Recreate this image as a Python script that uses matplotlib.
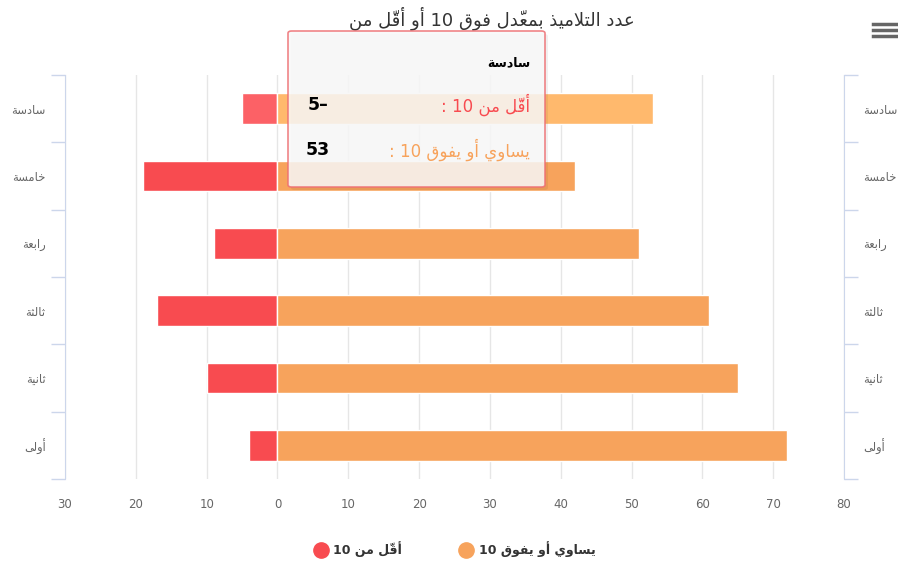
import numpy as np
import matplotlib
matplotlib.use('Agg')
import matplotlib.pyplot as plt
from matplotlib.lines import Line2D
from matplotlib.patches import FancyBboxPatch

# data
categories = ['سادسة', 'خامسة', 'رابعة', 'ثالثة', 'ثانية', 'أولى']
below_10 = [-5, -19, -9, -17, -10, -4]
above_10 = [53, 42, 51, 61, 65, 72]
series_names = ['أقلّ من 10', 'يساوي أو يفوق 10']
title = 'عدد التلاميذ بمعدّل فوق 10 أو أقلّ من'
xticks = list(range(-30, 81, 10))
hovered = 0

RED, RED_H = '#f84b50', '#fc6166'
ORANGE, ORANGE_H = '#f7a35c', '#ffb96d'

# small arabic shaping so matplotlib shows joined letters right to left
JOIN = {'ا': (0xFE8D, 2), 'أ': (0xFE83, 2), 'ب': (0xFE8F, 4), 'ة': (0xFE93, 2),
        'ت': (0xFE95, 4), 'ث': (0xFE99, 4), 'خ': (0xFEA5, 4), 'د': (0xFEA9, 2),
        'ذ': (0xFEAB, 2), 'ر': (0xFEAD, 2), 'س': (0xFEB1, 4), 'ع': (0xFEC9, 4),
        'ف': (0xFED1, 4), 'ق': (0xFED5, 4), 'ل': (0xFEDD, 4), 'م': (0xFEE1, 4),
        'ن': (0xFEE5, 4), 'و': (0xFEED, 2), 'ى': (0xFEEF, 2), 'ي': (0xFEF1, 4)}
LAM_ALEF = {'ا': 0xFEFB, 'أ': 0xFEF7}
MARKS = {'\u0651'}


def shape_word(word):
    clusters = []
    for ch in word:
        if ch in MARKS and clusters:
            clusters[-1][1] += ch
        else:
            clusters.append([ch, ''])
    merged = []
    i = 0
    while i < len(clusters):
        b, m = clusters[i]
        if b == 'ل' and not m and i + 1 < len(clusters) and clusters[i + 1][0] in LAM_ALEF:
            merged.append(['LA' + clusters[i + 1][0], clusters[i + 1][1]])
            i += 2
        else:
            merged.append([b, m])
            i += 1

    def joins(c):
        return c[0] in JOIN or c[0].startswith('LA')

    def dual(c):
        return c[0] in JOIN and JOIN[c[0]][1] == 4

    out = []
    for i, (b, m) in enumerate(merged):
        prev = i > 0 and dual(merged[i - 1])
        nxt = i + 1 < len(merged) and dual(merged[i]) and joins(merged[i + 1])
        if b.startswith('LA'):
            g = chr(LAM_ALEF[b[2]] + (1 if prev else 0))
        elif b in JOIN:
            base, n = JOIN[b]
            if n == 2:
                g = chr(base + (1 if prev else 0))
            else:
                g = chr(base + {(False, False): 0, (True, False): 1,
                                (False, True): 2, (True, True): 3}[(prev, nxt)])
        else:
            g = b
        out.append(g + m)
    return ''.join(reversed(out))


def ar(text):
    toks = text.split(' ')
    toks = [shape_word(t) if any(c in JOIN for c in t) else t for t in toks]
    return ' '.join(reversed(toks))


W, H = 898, 566
fig = plt.figure(figsize=(W / 100, H / 100), dpi=100)
fx = lambda px: px / W
fy = lambda py: 1 - py / H
ax = fig.add_axes([fx(65), fy(479), fx(844) - fx(65), fy(75) - fy(479)])

y = np.arange(len(categories))
neg_colors = [RED_H if i == hovered else RED for i in y]
pos_colors = [ORANGE_H if i == hovered else ORANGE for i in y]
ax.barh(y, below_10, height=0.46, color=neg_colors, edgecolor='white', linewidth=1, zorder=3)
ax.barh(y, above_10, height=0.46, color=pos_colors, edgecolor='white', linewidth=1, zorder=3)

ax.set_xlim(-30, 80)
ax.set_ylim(len(categories) - 0.5, -0.5)
ax.set_xticks(xticks)
ax.set_xticklabels([str(abs(v)) for v in xticks], color='#666666', fontsize=8.5)
ax.tick_params(axis='x', length=0, pad=14)
ax.grid(axis='x', color='#e6e6e6', linewidth=1, zorder=0)

ax.set_yticks(np.arange(len(categories) + 1) - 0.5)
ax.set_yticklabels([])
ax.set_yticks(y, minor=True)
ax.set_yticklabels([ar(c) for c in categories], minor=True, color='#666666', fontsize=8.3)
ax.tick_params(axis='y', which='major', left=True, right=True, length=10, width=1,
               color='#ccd6eb', direction='out')
ax.tick_params(axis='y', which='minor', left=True, right=True, labelleft=True,
               labelright=True, length=0, pad=14)
for s in ['top', 'bottom']:
    ax.spines[s].set_visible(False)
for s in ['left', 'right']:
    ax.spines[s].set_color('#ccd6eb')

fig.text(fx(492), fy(18), ar(title), ha='center', va='center', fontsize=13, color='#333333')

# legend
handles = [Line2D([], [], marker='o', ls='', markersize=11, color=RED),
           Line2D([], [], marker='o', ls='', markersize=11, color=ORANGE)]
fig.legend(handles, [ar(n) for n in series_names], loc='center',
           bbox_to_anchor=(fx(455), fy(549)), ncol=2, frameon=False,
           prop={'weight': 'bold', 'size': 9}, handlelength=1, handletextpad=0.5,
           columnspacing=4.6, labelcolor='#333333')

# tooltip for the hovered category
shadow = FancyBboxPatch((fx(291), fy(190)), fx(545) - fx(288), fy(31) - fy(187),
                        boxstyle='round,pad=0,rounding_size=0.004', transform=fig.transFigure,
                        facecolor='#000000', alpha=0.06, edgecolor='none', zorder=9)
box = FancyBboxPatch((fx(288), fy(187)), fx(545) - fx(288), fy(31) - fy(187),
                     boxstyle='round,pad=0,rounding_size=0.004', transform=fig.transFigure,
                     facecolor='#f9f9f9', alpha=0.85, edgecolor='#ee6f73', linewidth=1.2, zorder=10)
fig.add_artist(shadow)
fig.add_artist(box)
fig.text(fx(530), fy(63), ar(categories[hovered]), ha='right', va='center', fontsize=9,
         weight='bold', color='#000000', zorder=11)
fig.text(fx(530), fy(105), ar(series_names[0] + ' :'), ha='right', va='center', fontsize=12,
         color=RED, zorder=11)
fig.text(fx(308), fy(105), f'{abs(below_10[hovered])}\u2013', ha='left', va='center',
         fontsize=12.5, weight='bold', color='#000000', zorder=11)
fig.text(fx(530), fy(150), ar(series_names[1] + ' :'), ha='right', va='center', fontsize=12,
         color=ORANGE, zorder=11)
fig.text(fx(306), fy(150), str(above_10[hovered]), ha='left', va='center',
         fontsize=12.5, weight='bold', color='#000000', zorder=11)

# menu icon
for py in (24, 30, 36):
    fig.add_artist(Line2D([fx(873), fx(896)], [fy(py), fy(py)], color='#666666', lw=2.5))

fig.savefig('out.png', dpi=100)
